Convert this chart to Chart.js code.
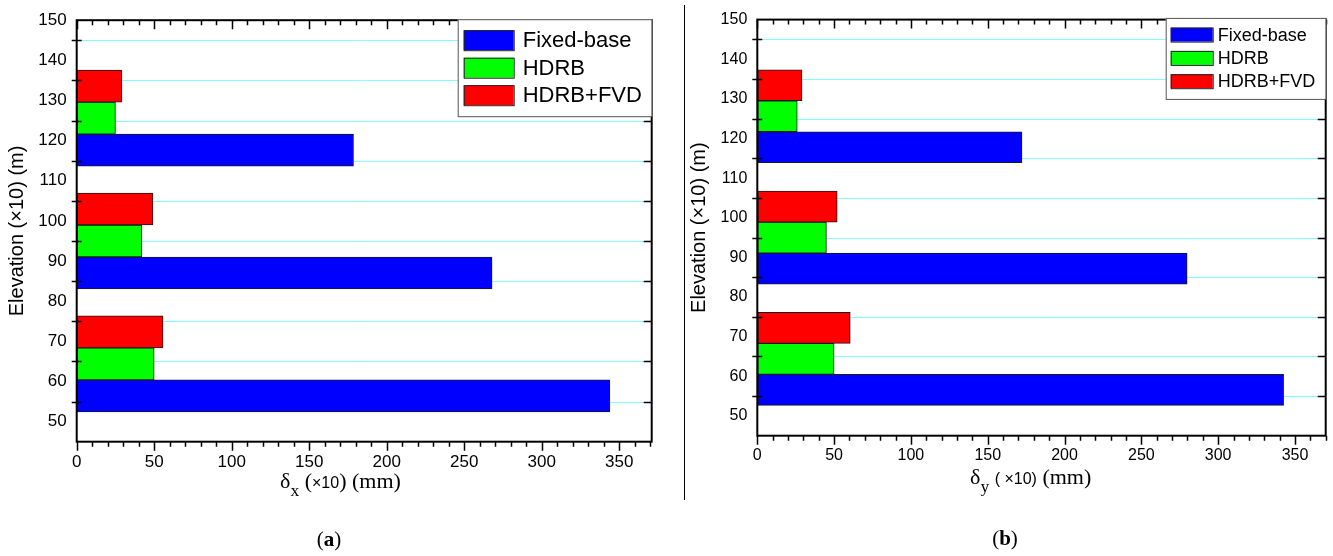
<!DOCTYPE html>
<html>
<head>
<meta charset="utf-8">
<script src="https://cdn.jsdelivr.net/npm/chart.js@4.4.1/dist/chart.umd.min.js"></script>
<style>
  body { margin: 0; background: #fff; width: 1333px; height: 556px; position: relative; overflow: hidden; }
  canvas { position: absolute; top: 0; }
  #chartA { left: 0; }
  #chartB { left: 686px; }
  .divider { position: absolute; left: 684px; top: 5px; width: 1px; height: 495px; background: #000; }
  .xtitle { position: absolute; font-family: "Liberation Serif", serif; font-size: 22px; line-height: 22px; white-space: nowrap; color: #000; }
  .xtitle .sub { font-size: 0.8em; position: relative; top: 0.45em; }
  .xtitle .sans { font-family: "Liberation Sans", Arial, sans-serif; font-size: 16px; }
  .panel { position: absolute; font-family: "Liberation Serif", serif; font-size: 21px; line-height: 22px; transform: translateX(-50%); color: #000; }
</style>
</head>
<body>
<canvas id="chartA" width="670" height="500"></canvas>
<div class="divider"></div>
<canvas id="chartB" width="647" height="500"></canvas>
<div class="xtitle" style="left:280px; top:470px;">δ<span class="sub">x</span> (<span class="sans">×10</span>) (mm)</div>
<div class="xtitle" style="left:970px; top:466px;">δ<span class="sub">y</span> <span class="sans">( ×10)</span> (mm)</div>
<div class="panel" style="left:329px; top:528px;">(<b>a</b>)</div>
<div class="panel" style="left:1005px; top:527px;">(<b>b</b>)</div>
<script>
const elevations = [64.4, 95, 125.6];

// (a) displacement in x
const fixedBaseDx = [344, 268, 178.6];
const hdrbDx = [50, 42, 25];
const hdrbFvdDx = [55.7, 49.2, 29.2];

// (b) displacement in y
const fixedBaseDy = [342.6, 279.8, 172.3];
const hdrbDy = [50, 45, 26];
const hdrbFvdDy = [60.5, 52, 29.1];

const seriesNames = ['Fixed-base', 'HDRB', 'HDRB+FVD'];
const seriesColors = ['#0000ff', '#00ff00', '#ff0000'];

const elevLabels = [50, 60, 70, 80, 90, 100, 110, 120, 130, 140, 150];
const elevGrid = [55, 65, 75, 85, 95, 105, 115, 125, 135, 145];
const dispLabels = [0, 50, 100, 150, 200, 250, 300, 350];
const dispMinor = [0, 10, 20, 30, 40, 50, 60, 70, 80, 90, 100, 110, 120, 130, 140, 150, 160, 170, 180,
  190, 200, 210, 220, 230, 240, 250, 260, 270, 280, 290, 300, 310, 320, 330, 340, 350, 360, 370];

// origin style frame: cyan grid behind the bars, box + ticks on all four sides on top
const framePlugin = {
  id: 'frame',
  beforeDatasetsDraw(chart) {
    const { ctx, chartArea: a, scales: { y } } = chart;
    ctx.save();
    ctx.strokeStyle = '#80ffff';
    ctx.lineWidth = 1;
    ctx.beginPath();
    elevGrid.forEach(v => {
      const py = Math.round(y.getPixelForValue(v)) + 0.5;
      ctx.moveTo(a.left, py); ctx.lineTo(a.right, py);
    });
    ctx.stroke();
    ctx.restore();
  },
  afterDraw(chart) {
    const { ctx, chartArea: a, scales: { x, y } } = chart;
    ctx.save();
    ctx.strokeStyle = '#000';
    ctx.lineWidth = 1.5;
    ctx.beginPath();
    elevGrid.forEach(v => {
      const py = Math.round(y.getPixelForValue(v)) + 0.5;
      ctx.moveTo(a.left - 5, py); ctx.lineTo(a.left + 5, py);
      ctx.moveTo(a.right - 8, py); ctx.lineTo(a.right, py);
    });
    dispMinor.forEach(v => {
      if (v > x.max) return;
      const px = Math.round(x.getPixelForValue(v)) + 0.5;
      const len = v % 50 === 0 ? 9 : 5;
      ctx.moveTo(px, a.top); ctx.lineTo(px, a.top + len);
      ctx.moveTo(px, a.bottom); ctx.lineTo(px, a.bottom + len);
    });
    ctx.stroke();
    ctx.lineWidth = 2;
    ctx.strokeRect(a.left, a.top, a.right - a.left, a.bottom - a.top);
    ctx.restore();
  }
};

const boxLegendPlugin = {
  id: 'boxLegend',
  afterDraw(chart, args, o) {
    const { ctx, chartArea: a } = chart;
    const left = a.right - o.width;
    const top = a.top + o.top;
    ctx.save();
    ctx.fillStyle = '#fff';
    ctx.fillRect(left, top, o.width, o.height);
    ctx.strokeStyle = '#555';
    ctx.lineWidth = 1;
    ctx.strokeRect(left + 0.5, top + 0.5, o.width, o.height);
    ctx.font = o.font;
    ctx.textBaseline = 'middle';
    // datasets are stored bottom-up, legend lists them top-down
    chart.data.datasets.slice().reverse().forEach((ds, i) => {
      const cy = top + o.firstRow + i * o.rowGap;
      ctx.fillStyle = ds.backgroundColor;
      ctx.fillRect(left + o.swatchX, cy - o.swatchH / 2, o.swatchW, o.swatchH);
      ctx.strokeStyle = '#222';
      ctx.strokeRect(left + o.swatchX + 0.5, cy - o.swatchH / 2 + 0.5, o.swatchW, o.swatchH);
      ctx.fillStyle = '#000';
      ctx.fillText(ds.label, left + o.textX, cy + 1);
    });
    ctx.restore();
  }
};

function buildDatasets(valueLists, thickness) {
  const sets = valueLists.map((vals, i) => ({
    label: seriesNames[i],
    data: elevations.map((e, j) => ({ x: vals[j], y: e })),
    backgroundColor: seriesColors[i],
    borderColor: '#1a1a1a',
    borderWidth: 1,
    borderSkipped: false,
    barThickness: thickness
  }));
  // chart.js puts the first dataset on top of a group, the figure has Fixed-base at the bottom
  return sets.reverse();
}

function makeChart(id, valueLists, cfg) {
  const W = cfg.width, H = 500;
  const tickFont = { family: 'Liberation Sans', size: cfg.tickSize };
  return new Chart(document.getElementById(id), {
    type: 'bar',
    data: { datasets: buildDatasets(valueLists, cfg.barThickness) },
    options: {
      indexAxis: 'y',
      responsive: false,
      animation: false,
      layout: { padding: { top: cfg.area.top, right: W - cfg.area.right, left: 0, bottom: 0 } },
      plugins: {
        legend: { display: false },
        tooltip: { enabled: false },
        boxLegend: cfg.legend
      },
      scales: {
        x: {
          type: 'linear',
          min: 0,
          max: cfg.xMax,
          afterBuildTicks: s => { s.ticks = dispLabels.map(v => ({ value: v })); },
          afterFit: s => { s.height = H - cfg.area.bottom; },
          grid: { drawOnChartArea: false, drawTicks: false },
          border: { display: false },
          ticks: { color: '#000', font: tickFont, padding: 10, maxRotation: 0, autoSkip: false }
        },
        y: {
          type: 'linear',
          min: 45,
          max: 150,
          offset: false,
          afterBuildTicks: s => { s.ticks = elevLabels.map(v => ({ value: v })); },
          afterFit: s => { s.width = cfg.area.left; },
          grid: { offset: false, drawTicks: false, drawOnChartArea: false },
          border: { display: false },
          ticks: { color: '#000', font: tickFont, padding: 10, autoSkip: false },
          title: {
            display: true,
            text: 'Elevation (×10) (m)',
            color: '#000',
            font: { family: 'Liberation Sans', size: 20 },
            padding: { top: cfg.titlePad, bottom: 0 }
          }
        }
      }
    },
    plugins: [framePlugin, boxLegendPlugin]
  });
}

makeChart('chartA', [fixedBaseDx, hdrbDx, hdrbFvdDx], {
  width: 670,
  area: { left: 76.7, top: 17, right: 651.7, bottom: 441.7 },
  xMax: 371,
  tickSize: 17,
  titlePad: 5,
  barThickness: 32,
  legend: { width: 194, height: 97, top: -1, firstRow: 21, rowGap: 27.5, swatchX: 6, swatchW: 50, swatchH: 20, textX: 65, font: '22px "Liberation Sans"' }
});

makeChart('chartB', [fixedBaseDy, hdrbDy, hdrbFvdDy], {
  width: 647,
  area: { left: 71.3, top: 16, right: 639.7, bottom: 435.7 },
  xMax: 370,
  tickSize: 16,
  titlePad: 1,
  barThickness: 31,
  legend: { width: 160, height: 81, top: -1.7, firstRow: 16.7, rowGap: 23.3, swatchX: 5, swatchW: 42, swatchH: 14, textX: 52, font: '18px "Liberation Sans"' }
});
</script>
</body>
</html>
